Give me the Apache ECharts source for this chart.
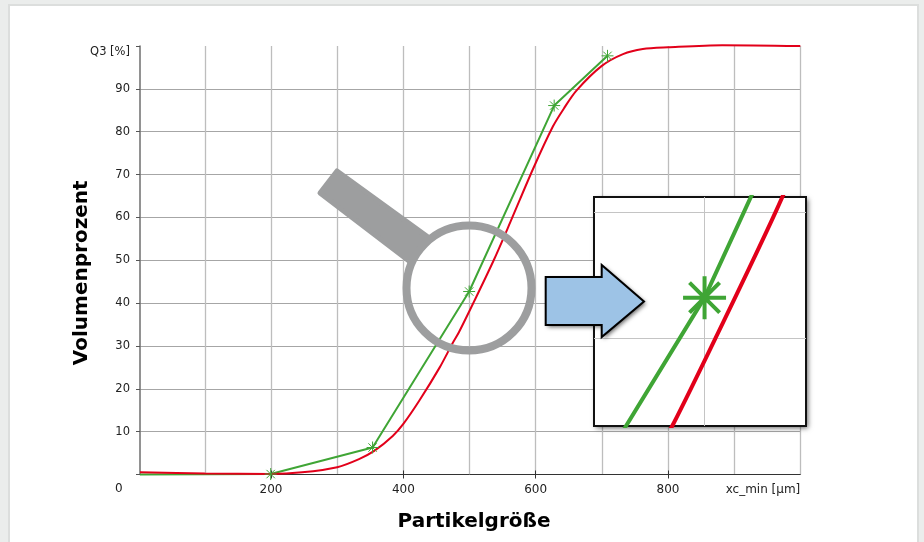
<!DOCTYPE html>
<html>
<head>
<meta charset="utf-8">
<style>html,body{margin:0;padding:0;background:#ebedec}#c{width:924px;height:542px}</style>
<script src="https://cdn.jsdelivr.net/npm/echarts@6/dist/echarts.min.js"></script>
</head>
<body>
<div id="c"></div>
<script>
const greenData = [[2,0],[199.5,0.1],[353.5,6.3],[499.5,42.7],[628,86.1],[708.6,97.7]];
const greenInsetData = [[353.5,6.3],[500,43.2],[628,86.1]];
const redData = [[2,0.5],[100,0.25],[200,0.1],[247,0.5],[300,1.7],[333,3.6],[356,5.5],[384,9.0],[400,11.8],[424,17.2],[455,25],[474,30.5],[484,33.2],[505.7,40],[536.6,50],[562,59],[596,71.3],[626,81.2],[643,85.5],[661.6,89.6],[699.5,95.3],[732,98.1],[762,99.3],[800,99.7],[882,100.2],[1000,100]];
const xTickLabels = {200:'200',400:'400',600:'600',800:'800',1000:'xc_min [µm]'};
const xTickValues = [200,400,600,800];
const yMaxLabel = 'Q3 [%]';
const insetGridX = [500];
const insetGridY = [40,50];
const xName = 'Partikelgröße';
const yName = 'Volumenprozent';
const originLabel = '0';

const font = '"DejaVu Sans", sans-serif';
const GREEN = '#3fa535', RED = '#e2001a';
const star = 'path://M0 -10L0 10M-10 0L10 0M-7 -7L7 7M-7 7L7 -7';
const arrowPts = [[545.7,277],[601.7,277],[601.7,265],[644,301.5],[601.7,337],[601.7,325],[545.7,325]];

const chart = echarts.init(document.getElementById('c'), null, {renderer:'canvas'});
chart.setOption({
  animation:false,
  backgroundColor:'#ebedec',
  graphic:[
    {type:'rect',z:-10,shape:{x:9,y:5,width:909,height:545},style:{fill:'#fff',stroke:'#dcdedd',lineWidth:2}},
    {type:'text',z:3,x:115,y:483,style:{text:originLabel,font:'12px '+font,fill:'#222'}},
    {type:'polygon',z:5,shape:{points:[[337,171],[320,193],[409,261],[428,237]]},style:{fill:'#9d9e9f',stroke:'#9d9e9f',lineWidth:5,lineJoin:'round'}},
    {type:'circle',z:5,shape:{cx:469,cy:288,r:62.5},style:{fill:'none',stroke:'#9d9e9f',lineWidth:8}},
    {type:'rect',z:9,shape:{x:594,y:197,width:212,height:229},style:{fill:'#111',shadowBlur:5,shadowColor:'rgba(0,0,0,0.6)',shadowOffsetX:2,shadowOffsetY:2}},
    {type:'polygon',z:19,shape:{points:arrowPts},style:{fill:'#000',shadowBlur:4,shadowColor:'rgba(0,0,0,0.6)',shadowOffsetX:2,shadowOffsetY:2}},
    {type:'polygon',z:20,shape:{points:arrowPts},style:{fill:'#9dc3e6',stroke:'#000',lineWidth:2,lineJoin:'miter'}}
  ],
  grid:[
    {left:138.7,top:46,width:661.6,height:428.5,show:false},
    {left:594,top:197,width:212,height:229,show:true,z:10,backgroundColor:'#fff',borderColor:'#111',borderWidth:2}
  ],
  xAxis:[
    {type:'value',gridIndex:0,position:'bottom',min:0,max:1000,interval:100,
     name:xName,nameLocation:'middle',nameGap:37,
     nameTextStyle:{fontFamily:font,fontWeight:'bold',fontSize:20,color:'#000',padding:[0,0,0,9]},
     axisLine:{show:true,onZero:false,lineStyle:{color:'#333',width:1}},
     axisTick:{show:false},axisLabel:{show:false},
     splitLine:{show:true,showMinLine:false,lineStyle:{color:'#bdbdbd',width:1.3}}},
    {type:'value',gridIndex:1,min:443,max:552.3,show:false,splitLine:{show:false}},
    {type:'value',gridIndex:0,position:'bottom',min:0,max:1000,interval:200,
     axisLine:{show:false,onZero:false},
     axisTick:{show:true,length:4,customValues:xTickValues,lineStyle:{color:'#333',width:1}},
     axisLabel:{show:true,margin:9,fontFamily:font,fontSize:12,color:'#222',alignMaxLabel:'right',hideOverlap:false,
       formatter:v=>xTickLabels[v]||''},
     splitLine:{show:false}},
    {type:'value',gridIndex:0,position:'bottom',min:0,max:1000,interval:200,
     axisLine:{show:false,onZero:false},
     axisTick:{show:true,inside:true,length:4,customValues:xTickValues,lineStyle:{color:'#333',width:1}},
     axisLabel:{show:false},splitLine:{show:false}}
  ],
  yAxis:[
    {type:'value',gridIndex:0,min:0,max:100,interval:10,offset:-1.3,
     name:yName,nameLocation:'middle',nameGap:48,nameRotate:90,nameMoveOverlap:false,
     nameTextStyle:{fontFamily:font,fontWeight:'bold',fontSize:20,color:'#000',padding:[0,25,0,0]},
     axisLine:{show:true,onZero:false,lineStyle:{color:'#777',width:1.6}},
     axisTick:{show:true,length:4,lineStyle:{color:'#555',width:1}},
     axisLabel:{show:true,margin:10,fontFamily:font,fontSize:11.5,color:'#222',verticalAlignMaxLabel:'top',
       formatter:v=>v===100?yMaxLabel:(v===0?'':String(v))},
     splitLine:{show:true,showMaxLine:false,showMinLine:false,lineStyle:{color:'#a6a6a6',width:1}}},
    {type:'value',gridIndex:1,min:33,max:51.2,show:false,splitLine:{show:false}}
  ],
  series:[
    {type:'line',name:'green',xAxisIndex:0,yAxisIndex:0,z:2,
     data:greenData.map((d,i)=>i===0?{value:d,symbol:'none'}:d),clip:false,
     lineStyle:{color:GREEN,width:2},symbol:star,symbolSize:12,showSymbol:true,
     itemStyle:{color:'none',borderColor:GREEN,borderWidth:1}},
    {type:'line',name:'red',xAxisIndex:0,yAxisIndex:0,z:2,data:redData,clip:false,smooth:0.3,
     lineStyle:{color:RED,width:2},symbol:'none'},
    {type:'line',name:'insetGrid',xAxisIndex:1,yAxisIndex:1,z:11,
     data:insetGridY.map(v=>[insetGridX[0],v]),symbol:'none',lineStyle:{opacity:0},
     markLine:{z:11,silent:true,symbol:'none',label:{show:false},animation:false,
       lineStyle:{color:'#c4c4c4',width:1,type:'solid'},
       data:[...insetGridX.map(v=>({xAxis:v})),...insetGridY.map(v=>({yAxis:v}))]}},
    {type:'line',name:'greenInset',xAxisIndex:1,yAxisIndex:1,z:12,data:greenInsetData,clip:true,
     lineStyle:{color:GREEN,width:4},symbol:star,symbolSize:43,
     itemStyle:{color:'none',borderColor:GREEN,borderWidth:4}},
    {type:'line',name:'redInset',xAxisIndex:1,yAxisIndex:1,z:12,data:redData,clip:true,smooth:0.3,
     lineStyle:{color:RED,width:4},symbol:'none'}
  ]
});
</script>
</body>
</html>
